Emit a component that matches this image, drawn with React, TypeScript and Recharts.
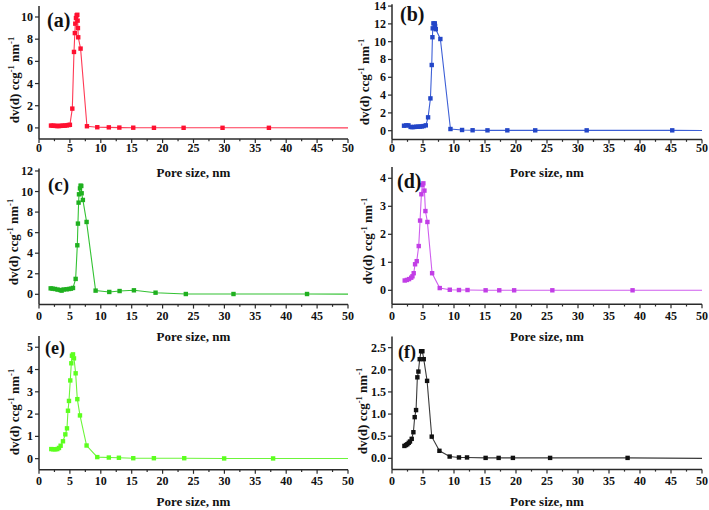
import React from 'react';
import { LineChart, Line, XAxis, YAxis } from 'recharts';

// ---------- data (pore size in nm, dv(d) in ccg-1 nm-1) ----------
const poreA = [1.94, 2.2, 2.45, 2.7, 2.95, 3.2, 3.45, 3.7, 3.95, 4.2, 4.5, 4.8, 5.0, 5.39, 5.66, 5.8, 5.87, 5.98, 6.09, 6.2, 6.25, 6.3, 6.35, 6.73, 7.76, 9.43, 11.3, 13.0, 15.25, 18.6, 23.4, 29.7, 37.2, 50];
const dvA = [0.21, 0.2, 0.19, 0.18, 0.17, 0.17, 0.18, 0.19, 0.2, 0.21, 0.23, 0.26, 0.28, 1.74, 6.85, 8.55, 9.4, 9.9, 10.15, 10.2, 9.67, 9.0, 8.17, 7.15, 0.15, 0.06, 0.05, 0.03, 0.02, 0.01, 0.01, 0.01, 0.01, 0.0];

const poreB = [1.94, 2.3, 2.65, 3.0, 3.3, 3.6, 3.9, 4.2, 4.5, 4.8, 5.1, 5.45, 5.82, 6.2, 6.41, 6.52, 6.57, 6.68, 6.9, 6.95, 7.06, 7.8, 9.43, 11.3, 13.0, 15.4, 18.6, 23.1, 31.4, 45.2, 50];
const dvB = [0.56, 0.6, 0.6, 0.42, 0.4, 0.42, 0.44, 0.45, 0.46, 0.48, 0.52, 0.6, 1.5, 3.63, 7.38, 10.5, 11.5, 12.06, 12.06, 11.76, 11.4, 10.3, 0.19, 0.08, 0.05, 0.04, 0.04, 0.04, 0.04, 0.04, 0.03];

const poreC = [1.89, 2.2, 2.6, 3.0, 3.4, 3.66, 4.0, 4.47, 4.85, 5.17, 5.5, 5.93, 6.2, 6.3, 6.41, 6.47, 6.63, 6.73, 6.84, 6.9, 7.1, 7.7, 9.16, 11.37, 13.04, 15.36, 18.86, 23.76, 31.47, 43.37, 50];
const dvC = [0.58, 0.55, 0.52, 0.46, 0.42, 0.36, 0.47, 0.49, 0.52, 0.55, 0.62, 1.5, 4.77, 6.88, 8.92, 9.73, 10.3, 10.57, 10.54, 9.83, 9.18, 7.04, 0.36, 0.23, 0.32, 0.39, 0.16, 0.03, 0.03, 0.03, 0.02];

const poreD = [2.05, 2.4, 2.75, 3.1, 3.3, 3.5, 3.72, 3.99, 4.31, 4.53, 4.74, 4.9, 5.06, 5.23, 5.39, 5.71, 6.47, 7.7, 9.32, 10.8, 12.18, 15.1, 17.3, 19.7, 25.86, 38.8, 50];
const dvD = [0.35, 0.37, 0.4, 0.45, 0.5, 0.61, 0.93, 1.04, 1.58, 2.49, 3.43, 3.76, 3.82, 3.56, 2.83, 2.44, 0.61, 0.08, 0.02, 0.01, 0.01, 0.0, 0.0, 0.0, 0.0, 0.0, 0.0];

const poreE = [1.99, 2.32, 2.64, 2.96, 3.23, 3.5, 3.88, 4.26, 4.53, 4.69, 4.85, 5.06, 5.23, 5.33, 5.5, 5.66, 5.93, 6.2, 6.63, 7.7, 9.43, 11.3, 12.93, 15.25, 18.59, 23.5, 29.96, 37.88, 50];
const dvE = [0.43, 0.42, 0.42, 0.43, 0.48, 0.58, 0.78, 1.09, 1.36, 2.15, 2.59, 3.51, 4.28, 4.62, 4.68, 4.5, 3.83, 2.67, 1.94, 0.59, 0.07, 0.05, 0.04, 0.02, 0.02, 0.02, 0.01, 0.01, 0.01];

const poreF = [2.0, 2.26, 2.48, 2.7, 2.9, 3.18, 3.45, 3.66, 3.88, 4.09, 4.26, 4.47, 4.69, 4.9, 5.12, 5.66, 6.41, 7.65, 9.3, 10.8, 12.1, 15.1, 17.2, 19.5, 25.5, 38.0, 50];
const dvF = [0.28, 0.3, 0.32, 0.35, 0.38, 0.44, 0.59, 0.93, 1.09, 1.83, 1.96, 2.24, 2.42, 2.42, 2.24, 1.75, 0.49, 0.17, 0.04, 0.02, 0.02, 0.01, 0.01, 0.01, 0.01, 0.01, 0.0];

const xTicks = [0, 2.5, 5, 7.5, 10, 12.5, 15, 17.5, 20, 22.5, 25, 27.5, 30, 32.5, 35, 37.5, 40, 42.5, 45, 47.5, 50];
const yTicksA = [0, 2, 4, 6, 8, 10];
const yTicksB = [0, 2, 4, 6, 8, 10, 12, 14];
const yTicksC = [0, 2, 4, 6, 8, 10, 12];
const yTicksD = [0, 1, 2, 3, 4];
const yTicksE = [0, 1, 2, 3, 4, 5];
const yTicksF = [0, 0.5, 1.0, 1.5, 2.0, 2.5];

const panelLetters = ['(a)', '(b)', '(c)', '(d)', '(e)', '(f)'];
const xTitle = 'Pore size, nm';

// ---------- styling / layout ----------
const FONT = '"Liberation Serif", "Times New Roman", Times, serif';
const AXIS = '#2a2a2a';
const W = 709;
const H = 510;
const YW = 20;
const XH = 30;

const zip = (xs: number[], ys: number[]) => xs.map((x, i) => ({ x, y: ys[i] }));

type Panel = {
  data: { x: number; y: number }[];
  color: string;
  lineColor: string;
  domain: [number, number];
  yTicks: number[];
  decimals: number;
  plot: { x0: number; x1: number; y0: number; y1: number };
  xLabelOff: number;
  letter: { x: number; y: number; size: number };
  yTitle: { x: number; y: number };
  xTitleY: number;
};

const panels: Panel[] = [
  { data: zip(poreA, dvA), color: '#ff1030', lineColor: '#ff3a55', domain: [-1, 11], yTicks: yTicksA, decimals: 0,
    plot: { x0: 39, x1: 348, y0: 5.9, y1: 139 }, xLabelOff: 12.5, letter: { x: 47, y: 27, size: 20 }, yTitle: { x: 19, y: 80 }, xTitleY: 177 },
  { data: zip(poreB, dvB), color: '#2346c8', lineColor: '#3d5fd6', domain: [-1, 14.2], yTicks: yTicksB, decimals: 0,
    plot: { x0: 392, x1: 702, y0: 4.3, y1: 139.6 }, xLabelOff: 12.5, letter: { x: 400, y: 21, size: 20 }, yTitle: { x: 369, y: 82 }, xTitleY: 177 },
  { data: zip(poreC, dvC), color: '#1fb01f', lineColor: '#33c233', domain: [-1, 12.25], yTicks: yTicksC, decimals: 0,
    plot: { x0: 39, x1: 348, y0: 168.4, y1: 304.6 }, xLabelOff: 15.5, letter: { x: 48, y: 191, size: 19 }, yTitle: { x: 18, y: 242 }, xTitleY: 340.5 },
  { data: zip(poreD, dvD), color: '#c23ee6', lineColor: '#cf5eee', domain: [-0.5, 4.4], yTicks: yTicksD, decimals: 0,
    plot: { x0: 392, x1: 702, y0: 167.1, y1: 304.3 }, xLabelOff: 15.5, letter: { x: 397, y: 188, size: 20 }, yTitle: { x: 372, y: 241 }, xTitleY: 340.5 },
  { data: zip(poreE, dvE), color: '#5cff1e', lineColor: '#6cf53a', domain: [-0.5, 5.5], yTicks: yTicksE, decimals: 0,
    plot: { x0: 39, x1: 348, y0: 336.1, y1: 469.8 }, xLabelOff: 15.5, letter: { x: 45, y: 354, size: 18 }, yTitle: { x: 19, y: 412 }, xTitleY: 506 },
  { data: zip(poreF, dvF), color: '#111111', lineColor: '#3a3a3a', domain: [-0.25, 2.75], yTicks: yTicksF, decimals: 1,
    plot: { x0: 392, x1: 702, y0: 336.6, y1: 469.4 }, xLabelOff: 15.5, letter: { x: 398, y: 358, size: 18 }, yTitle: { x: 367, y: 411 }, xTitleY: 506 },
];

const makeXTick = (labelOff: number) => (props: any) => {
  const { x, y, payload } = props;
  const v = payload.value as number;
  const major = Math.abs(v % 5) < 1e-9;
  return (
    <g>
      <line x1={x} x2={x} y1={y} y2={y + (major ? 4 : 2.2)} stroke={AXIS} strokeWidth={1.2} />
      {major && (
        <text x={x} y={y + labelOff} textAnchor="middle" fontFamily={FONT} fontWeight="bold" fontSize={12} fill="#111">
          {v}
        </text>
      )}
    </g>
  );
};

const makeYTick = (decimals: number) => (props: any) => {
  const { x, y, payload } = props;
  const v = payload.value as number;
  return (
    <g>
      <line x1={x - 4} x2={x} y1={y} y2={y} stroke={AXIS} strokeWidth={1.2} />
      <text x={x - 6} y={y + 4} textAnchor="end" fontFamily={FONT} fontWeight="bold" fontSize={12} fill="#111">
        {v.toFixed(decimals)}
      </text>
    </g>
  );
};

const makeDot = (color: string) => (props: any) => {
  const { cx, cy, payload, index } = props;
  if (payload.x >= 50 || cx == null || cy == null) return <g key={`d${index}`} />;
  const s = 4.4;
  return <rect key={`d${index}`} x={cx - s / 2} y={cy - s / 2} width={s} height={s} fill={color} />;
};

function PanelChart({ p }: { p: Panel }) {
  const margin = {
    left: p.plot.x0 - YW,
    right: W - p.plot.x1,
    top: p.plot.y0,
    bottom: H - p.plot.y1 - XH,
  };
  return (
    <div style={{ position: 'absolute', left: 0, top: 0, width: W, height: H }}>
      <LineChart width={W} height={H} data={p.data} margin={margin}>
        <XAxis
          dataKey="x"
          type="number"
          domain={[0, 50]}
          ticks={xTicks}
          interval={0}
          height={XH}
          tickSize={0}
          tickMargin={0}
          tickLine={false}
          tick={makeXTick(p.xLabelOff)}
          axisLine={{ stroke: AXIS, strokeWidth: 1.5 }}
          allowDataOverflow
        />
        <YAxis
          type="number"
          domain={p.domain}
          ticks={p.yTicks}
          interval={0}
          width={YW}
          tickSize={0}
          tickMargin={0}
          tickLine={false}
          tick={makeYTick(p.decimals)}
          axisLine={{ stroke: AXIS, strokeWidth: 1.5 }}
          allowDataOverflow
        />
        <Line
          type="linear"
          dataKey="y"
          stroke={p.lineColor}
          strokeWidth={1.1}
          dot={makeDot(p.color)}
          activeDot={false}
          isAnimationActive={false}
        />
      </LineChart>
    </div>
  );
}

function Annotations() {
  return (
    <svg width={W} height={H} style={{ position: 'absolute', left: 0, top: 0, pointerEvents: 'none' }}>
      {panels.map((p, i) => (
        <g key={i} fontFamily={FONT} fontWeight="bold" fill="#111">
          <text x={p.letter.x} y={p.letter.y} fontSize={p.letter.size}>
            {panelLetters[i]}
          </text>
          <text x={(p.plot.x0 + p.plot.x1) / 2} y={p.xTitleY} fontSize={13} textAnchor="middle">
            {xTitle}
          </text>
          <text
            transform={`translate(${p.yTitle.x},${p.yTitle.y}) rotate(-90)`}
            x={0}
            y={0}
            fontSize={13}
            textAnchor="middle"
          >
            dv(d) ccg
            <tspan dy={-5} fontSize={8.5}>-1</tspan>
            <tspan dy={5}> nm</tspan>
            <tspan dy={-5} fontSize={8.5}>-1</tspan>
          </text>
        </g>
      ))}
    </svg>
  );
}

export default function App() {
  return (
    <div style={{ position: 'absolute', left: 0, top: 0, width: W, height: H, background: '#fff', overflow: 'hidden' }}>
      {panels.map((p, i) => (
        <PanelChart key={i} p={p} />
      ))}
      <Annotations />
    </div>
  );
}
